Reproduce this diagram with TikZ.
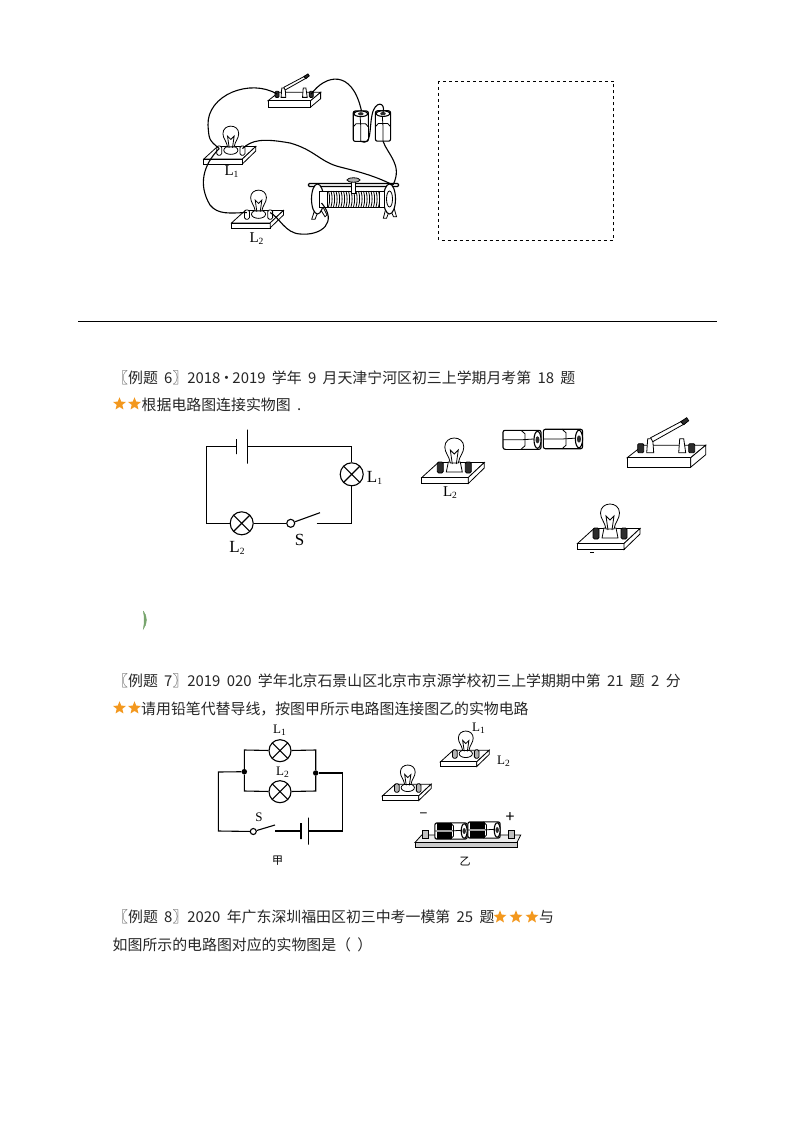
\documentclass[tikz,border=0pt]{standalone}
\usepackage{fontspec}
\usepackage{tikz}
\usetikzlibrary{calc}
\usetikzlibrary{positioning}
\usetikzlibrary{shapes.geometric}
\setmainfont{Noto Sans CJK SC}[WordSpace=1.9]
\newfontfamily\labelfont{Liberation Serif}
\definecolor{starorange}{RGB}{243, 152, 30}
\definecolor{markgreen}{RGB}{120, 165, 110}
\definecolor{postdark}{RGB}{45, 45, 45}
\newcommand{\Lsub}[1]{L\raisebox{-2pt}{\fontsize{9.5}{9.5}\selectfont #1}}
\newcommand{\basetrap}{\filldraw[thinwire, fill=white] (-5,-8) -- (7,-8) -- (9,2) -- (-7,2) -- cycle;}
\newcommand{\basedisc}{\filldraw[thinwire, fill=white] (1,-3) ellipse (8.5 and 5);}
\tikzset{
  wire/.style={line width=1.1pt, color=black},
  thinwire/.style={line width=0.8pt, color=black},
  linetext/.style={anchor=west, inner sep=0pt, font=\fontsize{14.9}{14.9}\selectfont, color=black!85},
  schemtext/.style={inner sep=0pt, font=\labelfont\fontsize{15}{15}\selectfont},
  bigtext/.style={inner sep=0pt, font=\labelfont\fontsize{17}{17}\selectfont},
  smalltext/.style={inner sep=0pt, font=\labelfont\fontsize{13}{13}\selectfont},
  ratedstar/.style={star, star points=5, star point ratio=2.3, fill=starorange, inner sep=0pt, minimum size=13.5pt},
  lamp/.style={circle, draw, wire, fill=white, inner sep=0pt, minimum size=#1, path picture={
      \draw[wire] (path picture bounding box.north west) -- (path picture bounding box.south east)
                  (path picture bounding box.north east) -- (path picture bounding box.south west);}},
  plate/.style={draw, wire, inner sep=0pt, outer sep=0pt, minimum width=0pt, minimum height=#1},
  hinge/.style={circle, draw, wire, fill=white, inner sep=0pt, minimum size=#1},
  pics/bulbboard/.style 2 args={code={
      \filldraw[thinwire, fill=white] (-31.5,7.5) -- (-15,-7.5) -- (31,-7.5) -- (15,7.5) -- cycle;
      \filldraw[thinwire, fill=white] (-31.5,7.5) -- (15,7.5) -- (15,13.5) -- (-31.5,13.5) -- cycle;
      \filldraw[thinwire, fill=white] (15,7.5) -- (31,-7.5) -- (31,-2) -- (15,13.5) -- cycle;
      \filldraw[thinwire, fill=#1, rounded corners=1.5pt] (-16,-8) rectangle (-10,3);
      \filldraw[thinwire, fill=#1, rounded corners=1.5pt] (12,-8) rectangle (18,3);
      #2
      \filldraw[thinwire, fill=white] (-3,-7) .. controls (-4,-14) and (-8.5,-17) .. (-8.5,-23)
          .. controls (-8.5,-35) and (10.5,-35) .. (10.5,-23)
          .. controls (10.5,-17) and (6,-14) .. (5,-7) -- cycle;
      \draw[thinwire] (-1,-6) -- (-3,-20) -- (1,-16) -- (5,-20) -- (3,-6);
      \coordinate (-pa) at (-13,-5);
      \coordinate (-pb) at (15,-5);
  }},
  pics/switchboard/.style={code={
      \filldraw[thinwire, fill=white] (-39.5,6) -- (-23.5,-6.5) -- (39,-6.5) -- (24,6) -- cycle;
      \filldraw[thinwire, fill=white] (-39.5,6) -- (24,6) -- (24,15.5) -- (-39.5,15.5) -- cycle;
      \filldraw[thinwire, fill=white] (24,6) -- (39,-6.5) -- (39,3) -- (24,15.5) -- cycle;
      \filldraw[thinwire, fill=#1, rounded corners=1pt] (-29,-8) rectangle (-23,1);
      \filldraw[thinwire, fill=#1, rounded corners=1pt] (22,-8) rectangle (28,1);
      \filldraw[thinwire, fill=white] (-19,-13) -- (-14,-13) -- (-13,1) -- (-20,1) -- cycle;
      \filldraw[thinwire, fill=white] (13,-13) -- (17,-13) -- (19,1) -- (12,1) -- cycle;
      \filldraw[thinwire, fill=white] (-16,-14) -- (16,-31) -- (18,-28) -- (-14,-10) -- cycle;
      \filldraw[thinwire, fill=postdark] (14,-30) -- (20,-34) -- (22,-31) -- (17,-27) -- cycle;
      \coordinate (-pa) at (-26,-4);
      \coordinate (-pb) at (25,-4);
  }},
  pics/cell/.style={code={
      \filldraw[wire, fill=white, rounded corners=2pt] (-19,-9.5) rectangle (19,9.5);
      \fill[#1] (-16,-9) rectangle (1,-1.5);
      \fill[#1] (-16,1.5) rectangle (1,9);
      \draw[thinwire] (-19,0) -- (-1,0) -- (15,-1);
      \draw[thinwire] (-1,-9.5) -- (3,-6) -- (3,6) -- (-1,9.5);
      \filldraw[wire, fill=white] (15.5,0) ellipse (3.5 and 8.5);
      \fill[postdark] (15.5,0) ellipse (2 and 3.5);
      \coordinate (-p) at (17,0);
      \coordinate (-n) at (-19,0);
  }},
  pics/rheostat/.style={code={
      \filldraw[thinwire, fill=white] (-37.5,7) -- (-41.8,20.3) -- (-38.5,20.3) -- (-34,9) -- (-28.5,17.7) -- (-26.5,16) -- (-31,7) -- cycle;
      \filldraw[thinwire, fill=white] (33,7) -- (29.8,19.3) -- (33,19.3) -- (36.5,10) -- (40,17.7) -- (43,17.7) -- (40,7) -- cycle;
      \draw[wire] (-38,-14) -- (-38,-9);
      \draw[wire] (39,-14) -- (39,-9);
      \filldraw[wire, fill=white, rounded corners=1pt] (-45,-15.5) rectangle (45,-12.5);
      \filldraw[wire, fill=white] (-36,0) ellipse (6 and 15);
      \filldraw[wire, fill=white] (36,0) ellipse (6 and 15);
      \filldraw[thinwire, fill=white] (36,0) ellipse (3 and 8);
      \filldraw[thinwire, fill=white] (-34,-8) rectangle (-25,8);
      \filldraw[thinwire, fill=white] (25,-8) rectangle (31,8);
      \filldraw[thinwire, fill=white] (-26,-8) rectangle (26,8);
      \foreach \coilx in {-25,-22.5,...,25}
        \draw[thinwire] (\coilx,-8) .. controls (\coilx+1.5,-3) and (\coilx+1.5,3) .. (\coilx,8);
      \filldraw[thinwire, fill=white] (-2,-18) -- (2,-18) -- (2,-6) -- (-2,-6) -- cycle;
      \filldraw[thinwire, fill=gray!60] (0,-19) ellipse (6.5 and 2.2);
      \coordinate (-pa) at (-32,4);
      \coordinate (-pb) at (39.5,-14);
  }},
}
\begin{document}
\begin{tikzpicture}[x=1pt, y=-1pt]
  \useasboundingbox (0,0) rectangle (793,1123);
  \fill[white] (0,0) rectangle (793,1123);

  % top circuit
  \pic (topSwitch) at (294.5,96.7) [scale=0.67] {switchboard=postdark};
  \pic (topCellA) at (360.8,126.2) [rotate=90, scale=0.8] {cell=white};
  \pic (topCellB) at (383,126) [rotate=90, scale=0.8] {cell=white};
  \pic (topLampA) at (230,152.7) [scale=0.83] {bulbboard={white}{\basedisc}};
  \pic (topLampB) at (257.7,216.7) [scale=0.83] {bulbboard={white}{\basedisc}};
  \pic (topRheo) at (353.5,199) {rheostat};
  \draw[wire] (topSwitch-pa) .. controls (250,78) and (207,95) .. (208,125) .. controls (209,140) .. (topLampA-pa);
  \draw[wire] (topSwitch-pb) .. controls (325,75) and (352,68) .. (361.5,111);
  \draw[wire] (topCellA-n) .. controls (372,146) and (369,130) .. (372,115) .. controls (375,100) and (386,102) .. (topCellB-p);
  \draw[wire] (topCellB-n) .. controls (388,155) and (403,165) .. (topRheo-pb);
  \draw[wire] (topLampA-pb) .. controls (252,140) and (262,138) .. (290,143) .. controls (315,150) and (320,162) .. (340,167) .. controls (360,172) and (375,176) .. (topRheo-pb);
  \draw[wire] (topLampA-pa) .. controls (203,165) and (198,185) .. (210,205) .. controls (218,215) and (230,213) .. (topLampB-pa);
  \draw[wire] (topLampB-pb) .. controls (280,218) and (285,233) .. (300,234) .. controls (322,236) and (338,222) .. (topRheo-pa);
  \node[schemtext] (topLabelA) at (231.5,172) {\Lsub{1}};
  \node[schemtext] (topLabelB) at (256.5,239) {\Lsub{2}};

  % answer box and rule
  \draw[thinwire, dashed] (438.5,81) rectangle (613,240);
  \draw[line width=1.6pt] (78,321.5) -- (717,321.5);

  % example 6
  \node[linetext] (titleSix) at (113,377.5) {〖例题 6〗2018\makebox[12pt]{·}2019 学年 9 月天津宁河区初三上学期月考第 18 题};
  \node[ratedstar] (starSixA) at (119.5,404) {};
  \node[ratedstar] (starSixB) at (134.5,404) {};
  \node[linetext] (taskSix) at (141.5,405) {根据电路图连接实物图 .};

  \node[plate=15pt] (plateThinA) at (236.7,446.7) {};
  \node[plate=34pt] (plateLongA) at (247.7,446.7) {};
  \node[lamp=23pt] (lampOne) at (351.7,474.3) {};
  \node[lamp=23pt] (lampTwo) at (241.7,523.3) {};
  \node[hinge=8pt] (hingeA) at (290.7,523.3) {};
  \coordinate (cornerA) at (206.7,446.7);
  \coordinate (cornerB) at (206.7,523.3);
  \coordinate (cornerC) at (351.7,446.7);
  \coordinate (cornerD) at (351.7,523.3);
  \coordinate (contactA) at (316.7,523.3);
  \coordinate (bladeA) at (320,512.7);
  \draw[wire] (plateThinA) -- (cornerA) -- (cornerB) -- (lampTwo);
  \draw[wire] (lampTwo) -- (hingeA);
  \draw[wire] (hingeA) -- (bladeA);
  \draw[wire] (contactA) -- (cornerD) -- (lampOne);
  \draw[wire] (lampOne) -- (cornerC) -- (plateLongA);
  \node[bigtext] (labelOne) at (374.5,478) {\Lsub{1}};
  \node[bigtext] (labelTwo) at (237,547.5) {\Lsub{2}};
  \node[bigtext] (labelS) at (299.5,540) {S};

  \pic (sixLampA) at (453.3,470) {bulbboard={postdark}{\basetrap}};
  \pic (sixCellA) at (522,439.8) {cell=white};
  \pic (sixCellB) at (563,439) [scale=1.03] {cell=white};
  \pic (sixSwitch) at (666.7,451.7) {switchboard=postdark};
  \pic (sixLampB) at (609,536) {bulbboard={postdark}{\basetrap}};
  \node[schemtext] (sixLabel) at (450,492.5) {\Lsub{2}};
  \draw[thinwire] (590,552.5) -- (593.5,552.5);

  \filldraw[color=markgreen, fill=markgreen] (143.3,611) .. controls (147.5,616) and (147.5,624) .. (143.3,629) .. controls (144.5,624) and (144.5,616) .. (143.3,611);

  % example 7
  \node[linetext] (titleSeven) at (113,681) {〖例题 7〗2019 020 学年北京石景山区北京市京源学校初三上学期期中第 21 题 2 分};
  \node[ratedstar] (starSevenA) at (119.5,708) {};
  \node[ratedstar] (starSevenB) at (134.5,708) {};
  \node[linetext] (taskSeven) at (141,708.5) {请用铅笔代替导线，按图甲所示电路图连接图乙的实物电路};

  \node[lamp=22pt] (lampThree) at (280,750.7) {};
  \node[lamp=22pt] (lampFour) at (280,791.7) {};
  \node[circle, fill=black, inner sep=0pt, minimum size=5.5pt] (dotLeft) at (244.3,771.7) {};
  \node[circle, fill=black, inner sep=0pt, minimum size=5.5pt] (dotRight) at (315.7,773) {};
  \node[hinge=6pt] (hingeB) at (253.3,831.5) {};
  \node[plate=16pt] (plateThinB) at (301,831) {};
  \node[plate=27pt] (plateLongB) at (308.3,831) {};
  \coordinate (cornerE) at (244.3,750);
  \coordinate (cornerF) at (315.7,750);
  \coordinate (cornerG) at (244.3,791);
  \coordinate (cornerH) at (315.7,791);
  \coordinate (cornerI) at (218.3,772);
  \coordinate (cornerJ) at (218.3,831);
  \coordinate (cornerK) at (342.7,773);
  \coordinate (cornerL) at (342.7,831);
  \coordinate (contactB) at (275,831);
  \coordinate (bladeB) at (275,825);
  \draw[wire] (dotLeft) -- (cornerE) -- (lampThree);
  \draw[wire] (lampThree) -- (cornerF) -- (dotRight);
  \draw[wire] (dotLeft) -- (cornerG) -- (lampFour);
  \draw[wire] (lampFour) -- (cornerH) -- (dotRight);
  \draw[wire] (dotLeft) -- (cornerI) -- (cornerJ) -- (hingeB);
  \draw[wire] (hingeB) -- (bladeB);
  \draw[wire] (contactB) -- (plateThinB);
  \draw[wire] (plateLongB) -- (cornerL) -- (cornerK) -- (dotRight);
  \node[smalltext] (labelThree) at (279.5,730) {\Lsub{1}};
  \node[smalltext] (labelFour) at (282.5,772) {\Lsub{2}};
  \node[smalltext] (labelSwitch) at (259,817) {S};
  \node[inner sep=0pt, font=\fontsize{11}{11}\selectfont] (labelJia) at (277.5,861) {甲};

  \pic (sevenLampA) at (465,756) [scale=0.78] {bulbboard={gray!60}{\basedisc}};
  \pic (sevenLampB) at (407,790) [scale=0.78] {bulbboard={gray!60}{\basedisc}};
  \filldraw[thinwire, fill=gray!15] (415,842.5) -- (421.7,835) -- (520.7,835) -- (517,842.5) -- cycle;
  \filldraw[thinwire, fill=gray!40] (415,842.5) rectangle (517,847.5);
  \filldraw[thinwire, fill=gray!50] (422,830) rectangle (428,838);
  \filldraw[thinwire, fill=gray!50] (508.5,830) rectangle (514.5,838);
  \pic (sevenCellA) at (451,831) [scale=0.85] {cell=black};
  \pic (sevenCellB) at (484,830) [scale=0.85] {cell=black};
  \node[smalltext] (labelFive) at (478.5,728.5) {\Lsub{1}};
  \node[smalltext] (labelSix) at (503.5,761.5) {\Lsub{2}};
  \node[inner sep=0pt, font=\fontsize{14}{14}\selectfont] (labelMinus) at (423.5,816) {−};
  \node[inner sep=0pt, font=\fontsize{16}{16}\selectfont] (labelPlus) at (510,818) {+};
  \node[inner sep=0pt, font=\fontsize{11}{11}\selectfont] (labelYi) at (465,861.5) {乙};

  % example 8
  \node[linetext] (titleEight) at (113,917) {〖例题 8〗2020 年广东深圳福田区初三中考一模第 25 题};
  \node[ratedstar] (starEightA) at (500,917) {};
  \node[ratedstar] (starEightB) at (516,917) {};
  \node[ratedstar] (starEightC) at (532,917) {};
  \node[linetext] (tailEight) at (539,917) {与};
  \node[linetext] (taskEight) at (112.5,945) {如图所示的电路图对应的实物图是（ ）};
\end{tikzpicture}
\end{document}
